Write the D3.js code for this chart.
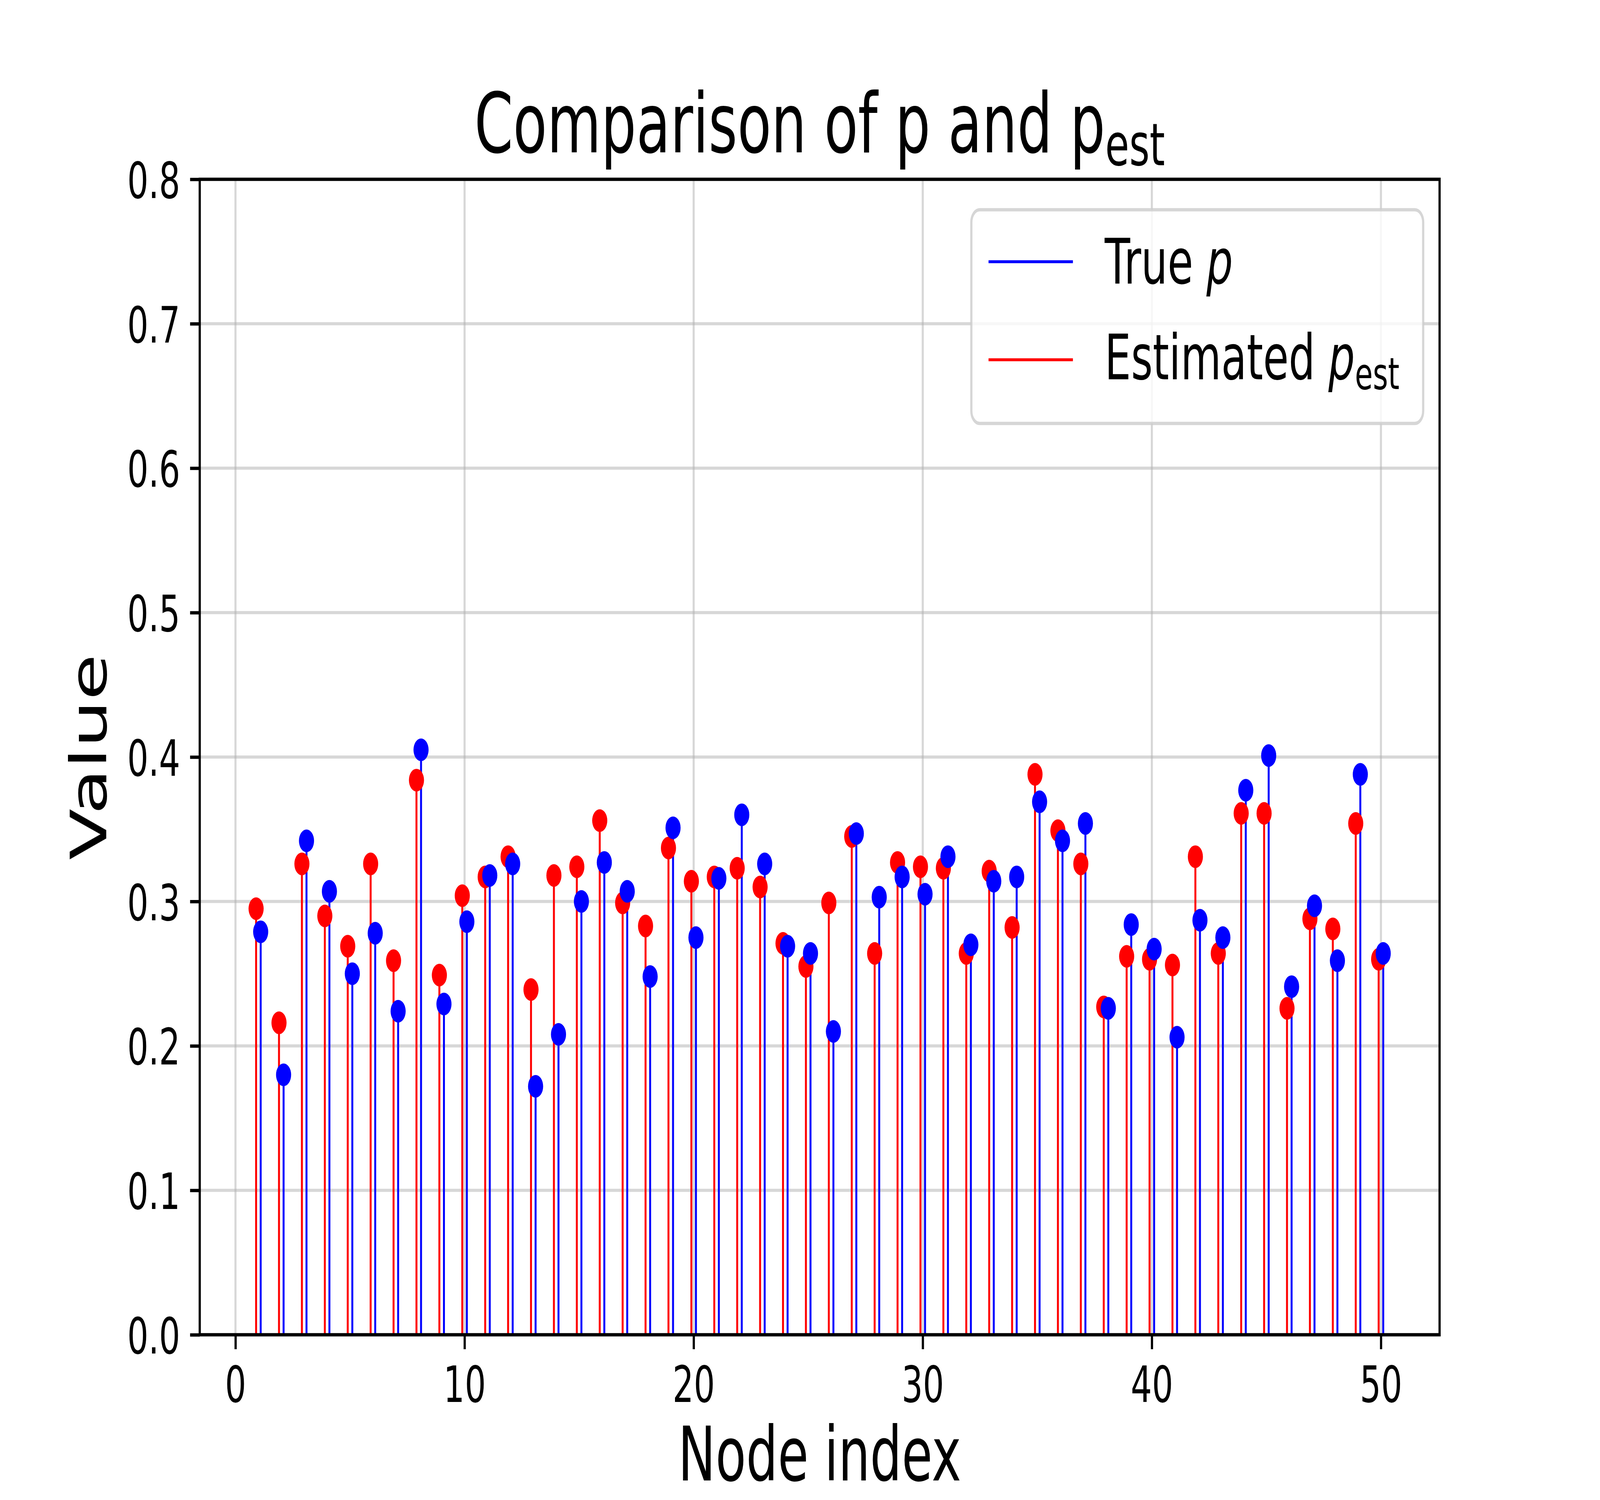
<!DOCTYPE html>
<html>
<head>
<meta charset="utf-8">
<script src="https://cdn.jsdelivr.net/npm/d3@7"></script>
<style>
  html, body { margin: 0; padding: 0; background: #fff; overflow: hidden; }
  #grafico svg { display: block; width: 100vw; height: 100vh; }
  text { font-family: "DejaVu Sans", sans-serif; }
</style>
</head>
<body>
<div id="grafico"></div>
<script>
// datos
const nodos = [1, 2, 3, 4, 5, 6, 7, 8, 9, 10, 11, 12, 13, 14, 15, 16, 17, 18, 19, 20,
  21, 22, 23, 24, 25, 26, 27, 28, 29, 30, 31, 32, 33, 34, 35, 36, 37, 38, 39, 40,
  41, 42, 43, 44, 45, 46, 47, 48, 49, 50];

const pReal = [0.279, 0.180, 0.342, 0.307, 0.250, 0.278, 0.224, 0.405, 0.229, 0.286,
  0.318, 0.326, 0.172, 0.208, 0.300, 0.327, 0.307, 0.248, 0.351, 0.275,
  0.316, 0.360, 0.326, 0.269, 0.264, 0.210, 0.347, 0.303, 0.317, 0.305,
  0.331, 0.270, 0.314, 0.317, 0.369, 0.342, 0.354, 0.226, 0.284, 0.267,
  0.206, 0.287, 0.275, 0.377, 0.401, 0.241, 0.297, 0.259, 0.388, 0.264];

const pEst = [0.295, 0.216, 0.326, 0.290, 0.269, 0.326, 0.259, 0.384, 0.249, 0.304,
  0.317, 0.331, 0.239, 0.318, 0.324, 0.356, 0.299, 0.283, 0.337, 0.314,
  0.317, 0.323, 0.310, 0.271, 0.255, 0.299, 0.345, 0.264, 0.327, 0.324,
  0.323, 0.264, 0.321, 0.282, 0.388, 0.349, 0.326, 0.227, 0.262, 0.260,
  0.256, 0.331, 0.264, 0.361, 0.361, 0.226, 0.288, 0.281, 0.354, 0.260];

const ticksX = [0, 10, 20, 30, 40, 50];
const ticksY = [0.0, 0.1, 0.2, 0.3, 0.4, 0.5, 0.6, 0.7, 0.8];

const W = 6144, H = 3840;
const izq = 767, der = 5528, arriba = 459, abajo = 3417;
const desfase = 0.1;

// la ventana real no tiene la proporcion 6144x3840, se estira el dibujo
const svg = d3.select("#grafico")
              .append("svg")
              .attr("viewBox", `0 0 ${W} ${H}`)
              .attr("preserveAspectRatio", "none");

svg.append("rect").attr("width", W).attr("height", H).attr("fill", "#fff");

const x = d3.scaleLinear().domain([-1.56, 52.56]).range([izq, der]);
const y = d3.scaleLinear().domain([0, 0.8]).range([abajo, arriba]);

// grilla
const grilla = svg.append("g").attr("stroke", "#b0b0b0").attr("stroke-opacity", 0.5).attr("stroke-width", 8);
grilla.selectAll(".gx").data(ticksX).join("line")
  .attr("x1", d => x(d)).attr("x2", d => x(d))
  .attr("y1", arriba).attr("y2", abajo);
grilla.selectAll(".gy").data(ticksY).join("line")
  .attr("x1", izq).attr("x2", der)
  .attr("y1", d => y(d)).attr("y2", d => y(d));

const serieEst = nodos.map((n, i) => ({ n: n - desfase, v: pEst[i] }));
const serieReal = nodos.map((n, i) => ({ n: n + desfase, v: pReal[i] }));

// tallos
function graficarTallos(datos, color) {
  svg.append("g")
    .selectAll("line")
    .data(datos)
    .join("line")
    .attr("x1", d => x(d.n)).attr("x2", d => x(d.n))
    .attr("y1", y(0)).attr("y2", d => y(d.v))
    .attr("stroke", color)
    .attr("stroke-width", 7.5);
}
function graficarPuntos(datos, color) {
  svg.append("g")
    .selectAll("circle")
    .data(datos)
    .join("circle")
    .attr("cx", d => x(d.n))
    .attr("cy", d => y(d.v))
    .attr("r", 29)
    .attr("fill", color);
}
graficarTallos(serieEst, "#ff0000");
graficarTallos(serieReal, "#0000ff");
graficarPuntos(serieEst, "#ff0000");
graficarPuntos(serieReal, "#0000ff");

// ejes
const ejeX = svg.append("g").attr("transform", `translate(0,${abajo})`)
  .call(d3.axisBottom(x).tickValues(ticksX).tickSize(37).tickPadding(44).tickFormat(d3.format("d")));
const ejeY = svg.append("g").attr("transform", `translate(${izq},0)`)
  .call(d3.axisLeft(y).tickValues(ticksY).tickSize(37).tickPadding(38).tickFormat(d3.format(".1f")));
[ejeX, ejeY].forEach(e => {
  e.select(".domain").remove();
  e.selectAll(".tick line").attr("stroke", "#000").attr("stroke-width", 8.5);
  e.selectAll(".tick text").attr("font-size", 128).attr("fill", "#000")
    .attr("font-family", "DejaVu Sans");
});
ejeY.selectAll(".tick text").attr("dy", "0.37em");

svg.append("rect")
  .attr("x", izq).attr("y", arriba)
  .attr("width", der - izq).attr("height", abajo - arriba)
  .attr("fill", "none").attr("stroke", "#000").attr("stroke-width", 8.5);

// titulo y etiquetas
const titulo = svg.append("text")
  .attr("x", (izq + der) / 2).attr("y", 390)
  .attr("text-anchor", "middle").attr("font-size", 213);
titulo.append("tspan").text("Comparison of p and p");
titulo.append("tspan").attr("font-size", 150).attr("dy", 33).text("est");

svg.append("text")
  .attr("x", (izq + der) / 2).attr("y", 3790)
  .attr("text-anchor", "middle").attr("font-size", 192)
  .text("Node index");

svg.append("text")
  .attr("transform", `translate(408,${(arriba + abajo) / 2}) rotate(-90)`)
  .attr("text-anchor", "middle").attr("font-size", 192)
  .text("Value");

// leyenda
const leyenda = svg.append("g");
leyenda.append("rect")
  .attr("x", 3730).attr("y", 537).attr("width", 1735).attr("height", 547)
  .attr("rx", 32).attr("ry", 32)
  .attr("fill", "#fff").attr("fill-opacity", 0.8)
  .attr("stroke", "#cccccc").attr("stroke-opacity", 0.8).attr("stroke-width", 8.5);

const entradas = [
  { color: "#0000ff", texto: "True ", sub: null, yl: 670, yt: 726 },
  { color: "#ff0000", texto: "Estimated ", sub: "est", yl: 921, yt: 971 }
];
entradas.forEach(e => {
  leyenda.append("line")
    .attr("x1", 3796).attr("x2", 4120).attr("y1", e.yl).attr("y2", e.yl)
    .attr("stroke", e.color).attr("stroke-width", 7.5);
  const t = leyenda.append("text").attr("x", 4242).attr("y", e.yt).attr("font-size", 160);
  t.append("tspan").text(e.texto);
  t.append("tspan").attr("font-style", "italic").text("p");
  if (e.sub) t.append("tspan").attr("font-size", 112).attr("dy", 25).text(e.sub);
});
</script>
</body>
</html>
